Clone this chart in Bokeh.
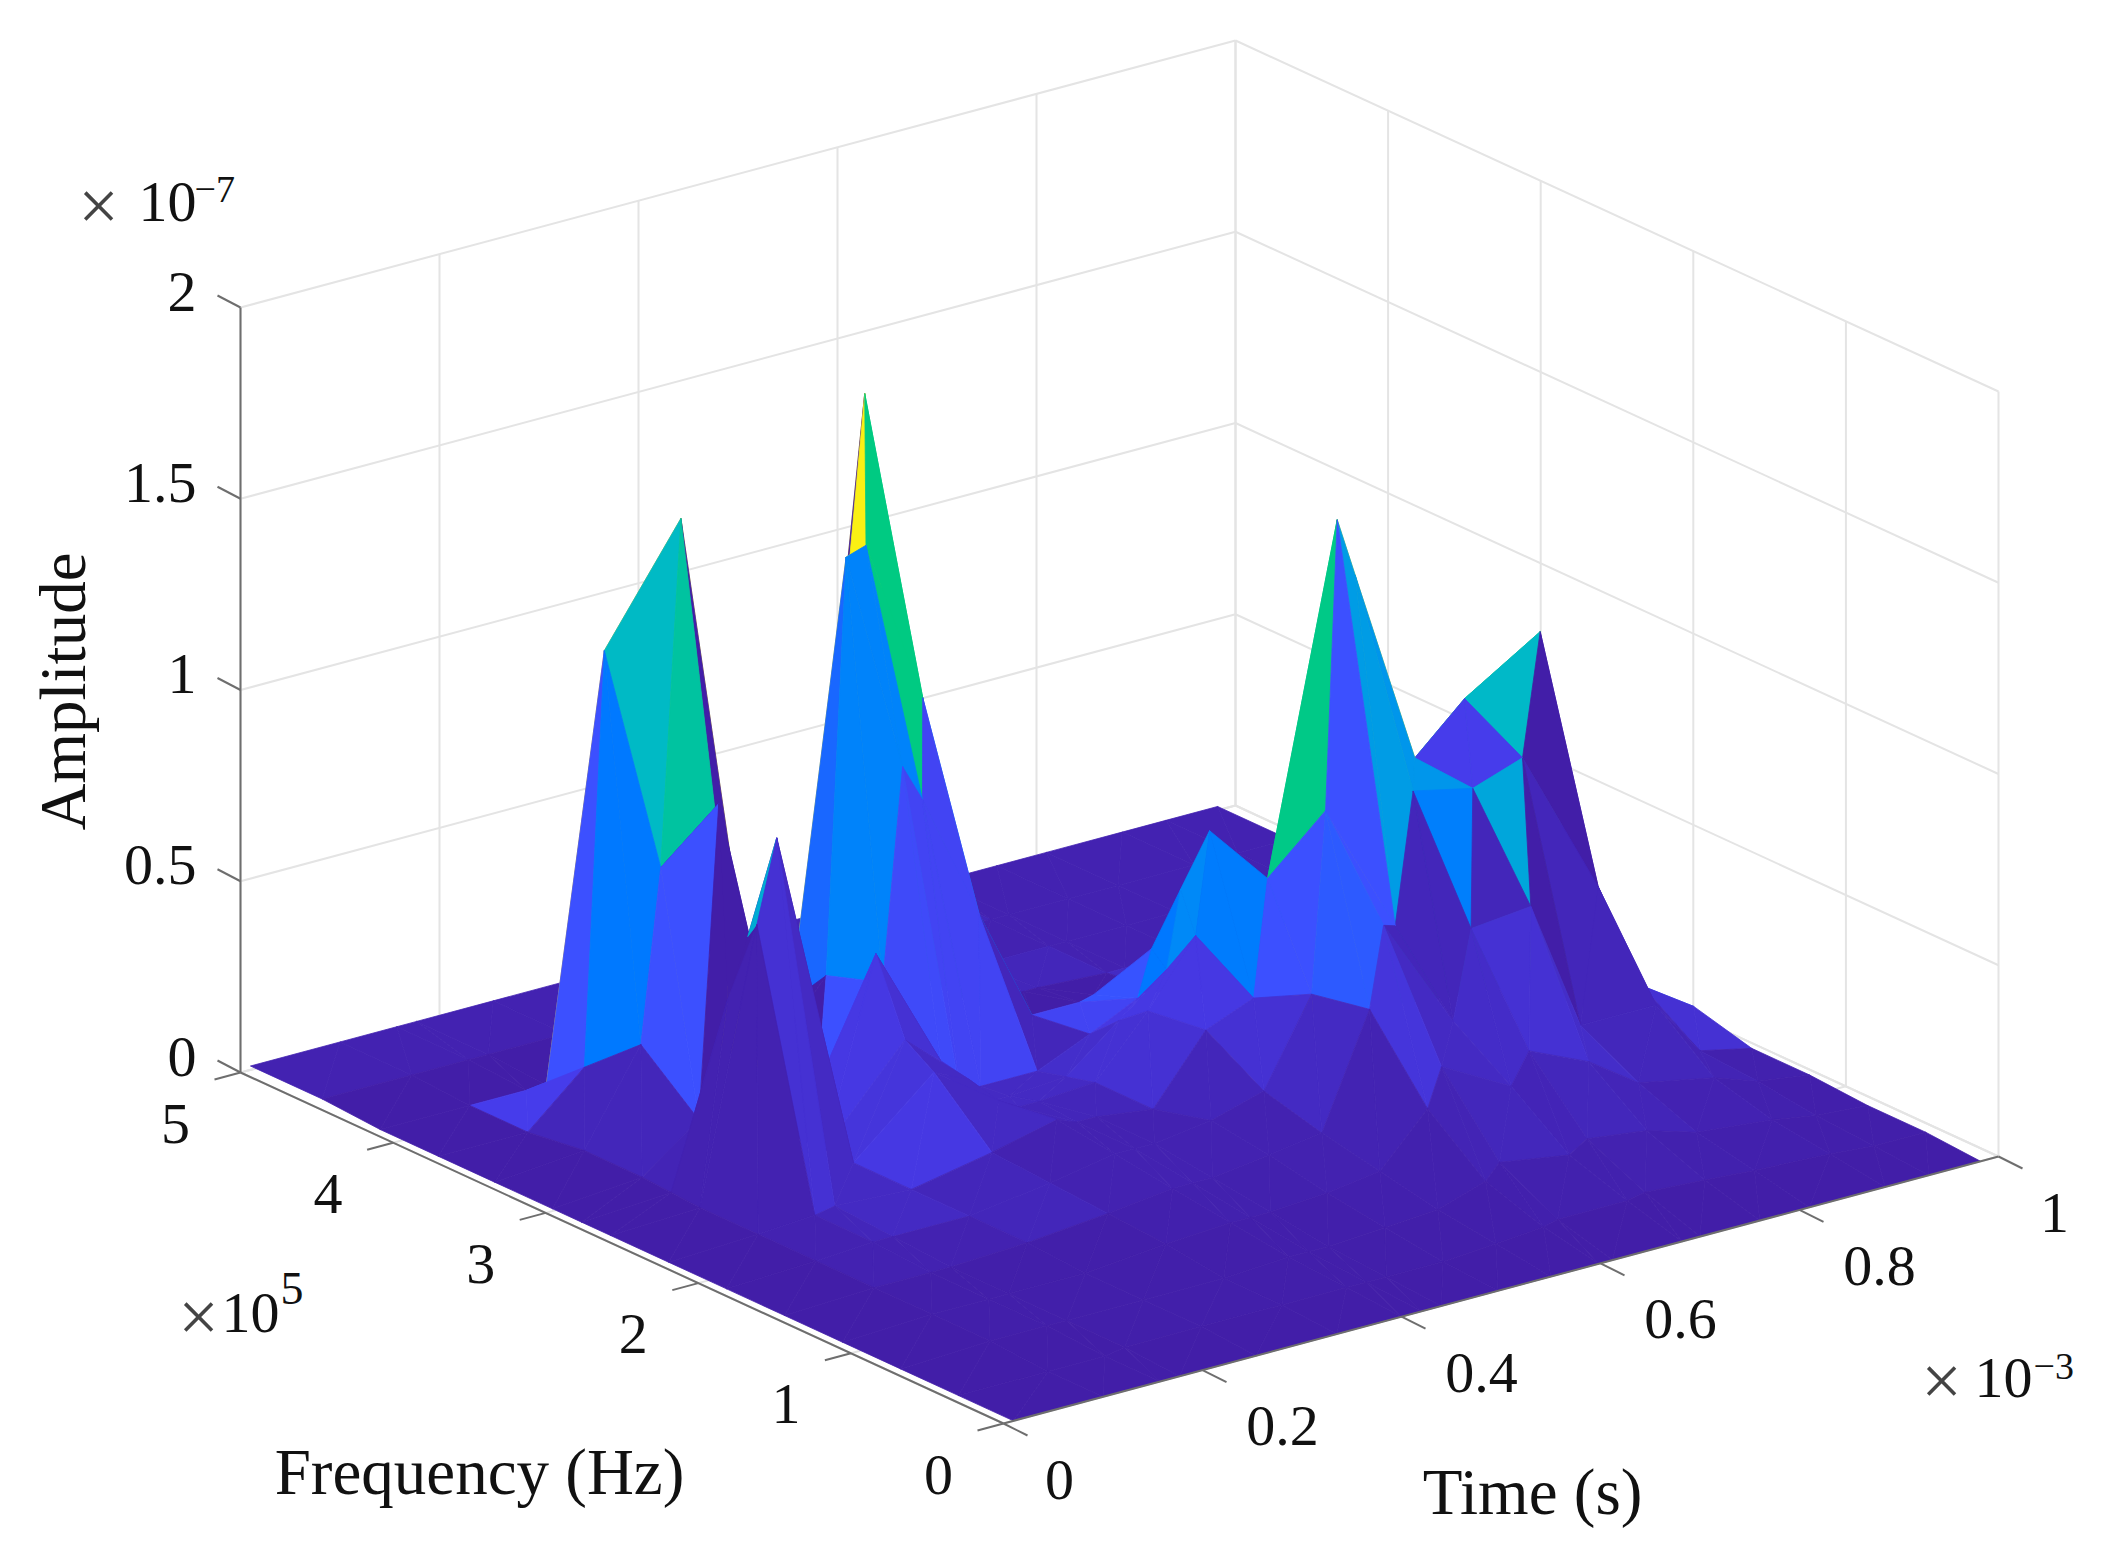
from bokeh.plotting import figure
from bokeh.models import Range1d, ColumnDataSource
from bokeh.core.properties import value
from bokeh.embed import file_html
from bokeh.resources import INLINE
import math

# ---------------------------------------------------------------- data
TIME_MS = [.01,.10,.157,.177,.254,.335,.40,.42,.44,.497,.55,.598,.612,.682,.70,.76,.81,.886,.93,.982]
FREQ_1E5 = [0,.36,.74,1.12,1.50,1.88,2.26,2.64,2.83,3.02,3.40,3.77,4.15,4.53,5.0]
# amplitude (x 1e-7): one row per frequency, one column per time
AMP = [
 [0,0,0,0,0,0,0,0,0,0,0,0,0,0,0,0,0,0,0,0],
 [0,0,0,.01,.01,.01,.01,.01,.01,.01,.02,.03,.04,.04,.05,.04,.03,.02,.01,.01],
 [0,.01,.01,.01,.01,.01,.02,.02,.02,.03,.04,.08,.12,.09,.12,.10,.06,.04,.02,.01],
 [0,.01,.01,.01,.01,.03,.04,.04,.04,.05,.07,.2,.3,.2,.28,.21,.12,.08,.04,.02],
 [0,.01,.01,.01,.02,.04,.06,.06,.06,.08,.10,.39,.6,.3,.53,.546,.2,.2,.05,.02],
 [0,.01,.02,.02,.02,.05,.08,.08,.08,.10,.14,.36,.83,.48,.82,.785,.83,.44,.15,.06],
 [0,.01,.02,.03,.02,.06,.10,.08,.08,.06,.23,.28,.583,1.472,1.315,.795,.915,1.037,.02,.03],
 [0,.01,.71,.923,.02,.20,.08,.05,.05,.06,.21,.374,.638,.25,.10,.08,.05,.03,.02,.02],
 [0,.015,.48,.63,.02,.25,.10,.03,.03,.04,.15,.25,.45,.18,.09,.06,.04,.025,.02,.015],
 [0,.02,.13,.943,.02,.44,.115,.01,.02,.02,.08,.14,.26,.10,.08,.05,.03,.02,.01,.01],
 [0,.02,.257,.706,.30,.03,.25,.80,.70,.36,.06,.06,.07,.03,.03,.03,.02,.02,.01,.01],
 [0,0,.13,1.205,1.497,0,.20,1.28,1.297,.859,.02,.02,.02,.01,.01,.01,.01,.01,.01,.01],
 [0,0,0,0,.04,.02,.02,0,0,1.584,.03,.01,.01,.01,.01,.01,.01,.01,.01,.01],
 [.01,.01,.01,.01,.01,.01,.02,.02,.02,.02,.02,.02,.02,.01,.01,.01,.01,.01,.01,.01],
 [.01,.01,.01,.01,.01,.01,.01,.01,.01,.01,.01,.01,.01,.01,.01,.01,.01,.01,.01,.01],
]
# face colour levels that differ from the face's first corner: (time, freq, half): level
FACE_LEVEL = {
 (.10,3.77,"B"):.08,
 (.177,3.40,"L"):.78, (.177,3.02,"B"):0, (.157,2.83,"B"):0, (.157,2.64,"U"):0, (.157,2.64,"L"):.6,
 (.177,2.64,"B"):0, (.177,2.83,"B"):0, (.157,2.26,"B"):.05,
 (.177,1.88,"B"):.03, (.254,2.26,"B"):.07, (.254,2.64,"B"):.06, (.254,2.83,"B"):.07, (.335,2.26,"B"):.03,
 (.335,2.64,"B"):.03, (.335,2.83,"B"):.05, (.254,3.40,"B"):0,
 (.254,3.02,"U"):.04, (.254,3.02,"L"):.08,
 (.335,3.40,"U"):0, (.335,3.40,"L"):.13, (.335,3.02,"U"):.13, (.335,3.02,"L"):.02,
 (.40,3.40,"B"):.33, (.42,3.40,"B"):.33, (.42,3.77,"B"):1.3, (.44,3.77,"U"):1.3, (.44,3.77,"L"):.84,
 (.44,3.40,"U"):.84, (.44,3.40,"L"):.1, (.44,3.02,"B"):.1, (.42,3.02,"B"):.1,
 (.40,2.26,"B"):.02, (.42,2.26,"B"):.02, (.44,2.26,"B"):.02, (.497,2.26,"B"):.05, (.497,2.64,"B"):.05,
 (.40,2.64,"B"):.03, (.42,2.64,"B"):.03, (.44,2.64,"B"):.03,
 (.335,1.88,"B"):.01, (.40,1.88,"B"):.01, (.42,1.88,"B"):.01, (.44,1.88,"B"):.01, (.497,1.88,"B"):.02,
 (.335,1.50,"B"):.01, (.40,1.50,"B"):.01, (.42,1.50,"B"):.01, (.44,1.50,"B"):.01, (.497,1.50,"B"):.01,
 (.55,1.50,"B"):.03, (.55,1.88,"B"):.05, (.55,2.26,"B"):.07, (.55,2.64,"B"):.07, (.55,2.83,"B"):.07,
 (.55,3.02,"B"):.10, (.55,3.40,"B"):0, (.598,3.40,"B"):0, (.612,3.40,"B"):0,
 (.598,1.88,"B"):.13, (.598,1.50,"B"):.16, (.598,1.12,"B"):.06,
 (.612,2.26,"U"):0, (.612,2.26,"L"):.83, (.612,2.64,"B"):0, (.612,2.83,"B"):0, (.612,3.02,"B"):0,
 (.612,1.50,"U"):.13, (.612,1.50,"L"):.02, (.612,1.12,"B"):.03, (.612,1.88,"L"):.13,
 (.682,1.50,"B"):.02, (.70,1.88,"B"):.45, (.70,1.50,"U"):.3, (.70,1.50,"L"):.02, (.76,1.88,"B"):.08,
 (.76,1.50,"L"):0, (.81,1.50,"B"):.02, (.81,1.88,"U"):.7, (.81,1.88,"L"):0, (.886,1.50,"B"):.02,
 (.886,1.88,"B"):0,
}
FORE_FREQS = [.36,.74,1.12]   # faces in these frequency rows stay dark
LEVELS = [0,.03,.08,.13,.25,.40,.5,.7,.86,1.0,1.2,1.3]
COLORS = [(66,30,168),(68,42,195),(70,60,235),(60,80,255),(0,120,255),(0,140,245),(0,160,225),
          (0,185,200),(0,205,120),(80,210,80),(240,200,40),(250,240,20)]

Z_TICKS = [0,.5,1,1.5,2]
Z_LABELS = ["0","0.5","1","1.5","2"]
F_TICKS = [0,1,2,3,4,5]
F_LABELS = ["0","1","2","3","4","5"]
T_TICKS = [0,.2,.4,.6,.8,1]
T_LABELS = ["0","0.2","0.4","0.6","0.8","1"]

# ---------------------------------------------------------------- view
O = (1003.0,1423.0)
ET = (995.0,-267.0)
EF = (-152.6,-70.2)
EZ = -382.5
def proj(t,f,z=0.0):
    return (O[0]+ET[0]*t+EF[0]*f, O[1]+ET[1]*t+EF[1]*f+EZ*z)

def level_color(v):
    if v<=LEVELS[0]: return "#%02x%02x%02x"%COLORS[0]
    for a,b,ca,cb in zip(LEVELS,LEVELS[1:],COLORS,COLORS[1:]):
        if v<=b:
            k=(v-a)/(b-a)
            return "#%02x%02x%02x"%tuple(round(x+(y-x)*k) for x,y in zip(ca,cb))
    return "#%02x%02x%02x"%COLORS[-1]

W,H = 2101,1544
p = figure(width=W,height=H,x_range=Range1d(0,W),y_range=Range1d(H,0),
           output_backend="svg",toolbar_location=None,min_border=0)
p.axis.visible=False; p.grid.visible=False; p.outline_line_color=None
p.background_fill_color="white"; p.border_fill_color="white"

# walls and floor grid
GRID="#e4e4e4"
def seg(a,b,color,width):
    p.line([a[0],b[0]],[a[1],b[1]],line_color=color,line_width=width)
for z in Z_TICKS:
    seg(proj(0,5,z),proj(1,5,z),GRID,2)
    seg(proj(1,5,z),proj(1,0,z),GRID,2)
for t in T_TICKS:
    seg(proj(t,5,0),proj(t,5,2),GRID,2)
    seg(proj(t,0,0),proj(t,5,0),GRID,2)
for f in F_TICKS:
    seg(proj(1,f,0),proj(1,f,2),GRID,2)
    seg(proj(0,f,0),proj(1,f,0),GRID,2)

# surface: back to front
xs,ys,cs=[],[],[]
def add(pts,lv):
    q=[proj(*a) for a in pts]
    xs.append([a[0] for a in q]); ys.append([a[1] for a in q]); cs.append(level_color(lv))
for i in range(len(TIME_MS)-2,-1,-1):
    for j in range(len(FREQ_1E5)-2,-1,-1):
        t0,t1=TIME_MS[i],TIME_MS[i+1]; f0,f1=FREQ_1E5[j],FREQ_1E5[j+1]
        a=(t0,f0,AMP[j][i]); b=(t1,f0,AMP[j][i+1]); c=(t1,f1,AMP[j+1][i+1]); d=(t0,f1,AMP[j+1][i])
        base=AMP[j][i]*(.18 if f0 in FORE_FREQS else 1)
        lvU=FACE_LEVEL.get((t0,f0,"U"),FACE_LEVEL.get((t0,f0,"B"),base))
        lvL=FACE_LEVEL.get((t0,f0,"L"),FACE_LEVEL.get((t0,f0,"B"),base))
        add([a,d,c],lvU)
        add([a,b,c],lvL)
src=ColumnDataSource(dict(xs=xs,ys=ys,c=cs))
p.patches("xs","ys",source=src,fill_color="c",line_color="c",line_width=0.8)

# axes
AX="#6e6e6e"
seg(proj(0,5,0),proj(0,5,2),AX,2)
seg(proj(0,5,0),proj(0,0,0),AX,2)
seg(proj(0,0,0),proj(1,0,0),AX,2)
for z in Z_TICKS:
    a=proj(0,5,z); seg(a,(a[0]-23,a[1]-12),AX,2)
for f in F_TICKS:
    a=proj(0,f,0); seg(a,(a[0]-26,a[1]+7),AX,2)
for t in T_TICKS:
    a=proj(t,0,0); seg(a,(a[0]+24,a[1]+12),AX,2)

# texts
FONT=value("Liberation Serif"); TXT="#111111"
def txt(x,y,s,size,align="center",base="middle",angle=0,color=TXT):
    p.text([x],[y],text=[s],text_font=FONT,text_font_size=value(size),text_align=align,
           text_baseline=base,angle=angle,text_color=color)
for z,l in zip(Z_TICKS,Z_LABELS):
    a=proj(0,5,z); txt(196,a[1]-16,l,"58px","right")
for f,l in zip(F_TICKS,F_LABELS):
    a=proj(0,f,0); txt(a[0]-65,a[1]+51,l,"58px")
for t,l in zip(T_TICKS,T_LABELS):
    a=proj(t,0,0); txt(a[0]+(24 if len(l)>1 else 0)+56,a[1]+56,l,"58px")
txt(62,691,"Amplitude","65px",angle=math.pi/2)
txt(479,1471,"Frequency (Hz)","65px")
txt(1532,1491,"Time (s)","65px")
# axis multipliers
txt(98,205,"×","72px",color="#444444")
txt(138,201,"10","58px","left","alphabetic")
txt(194,189,"−7","38px","left","alphabetic")
txt(198,1316,"×","72px",color="#444444")
txt(221,1312,"10","58px","left","alphabetic")
txt(280,1288,"5","46px","left","alphabetic")
txt(1941,1380,"×","72px",color="#444444")
txt(1974,1377,"10","58px","left","alphabetic")
txt(2033,1366,"−3","38px","left","alphabetic")

open("out.html","w").write(file_html(p,INLINE))
